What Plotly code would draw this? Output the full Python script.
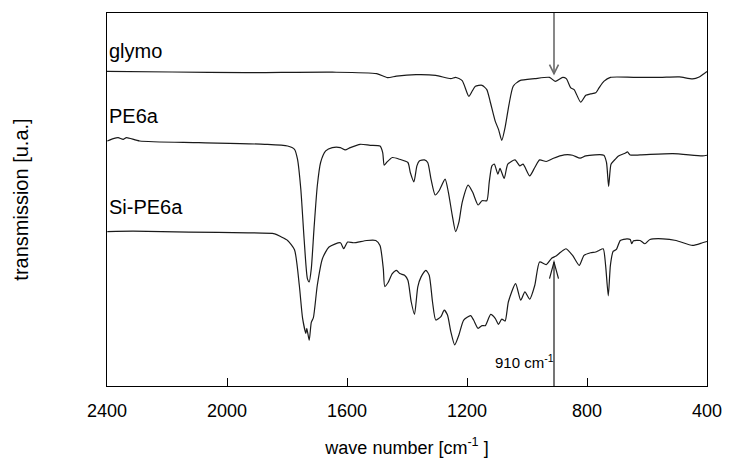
import plotly.graph_objects as go

# FTIR spectra, stacked for comparison (wave number in cm-1, transmission in arbitrary units)
glymo_wn = [2400, 2183, 1939, 1649, 1501, 1465, 1435, 1370, 1304, 1254, 1238, 1216, 1194, 1183,
            1172, 1150, 1134, 1123, 1106, 1095, 1084, 1073, 1060, 1046, 1024, 974, 925, 906,
            881, 869, 854, 843, 821, 804, 788, 771, 760, 744, 722, 645, 557, 492, 448, 426,
            415, 400]
glymo_t = [316.3, 315.7, 315.0, 315.5, 314.0, 310.0, 311.5, 313.0, 312.3, 309.0, 310.3, 307.0,
           291.3, 296.3, 301.3, 302.3, 298.0, 286.3, 266.3, 258.0, 247.0, 260.0, 283.0, 301.3,
           307.0, 309.0, 310.3, 306.3, 310.3, 309.0, 299.7, 298.0, 285.3, 292.3, 293.7, 294.7,
           299.7, 306.3, 310.3, 310.3, 310.3, 310.7, 308.7, 310.7, 313.0, 316.3]

pe6a_wn = [2399, 2379, 2363, 2346, 2335, 2291, 2094, 1874, 1798, 1775, 1765, 1754, 1743, 1732,
           1726, 1719, 1710, 1699, 1688, 1671, 1649, 1622, 1606, 1589, 1556, 1523, 1490, 1481,
           1476, 1468, 1449, 1425, 1397, 1389, 1377, 1367, 1359, 1342, 1331, 1320, 1306, 1293,
           1273, 1262, 1249, 1238, 1227, 1216, 1196, 1181, 1163, 1150, 1134, 1126, 1117, 1109,
           1097, 1090, 1076, 1064, 1040, 1024, 1013, 991, 974, 958, 936, 914, 876, 848, 823,
           804, 744, 735, 728, 720, 711, 695, 673, 665, 656, 623, 514, 415, 400]
pe6a_t = [246.3, 248.7, 249.7, 248.0, 249.7, 246.3, 244.7, 243.0, 241.3, 238.0, 228.0, 198.0,
          148.0, 108.0, 104.7, 118.0, 158.0, 201.3, 224.7, 236.3, 239.7, 239.7, 237.3, 239.7,
          243.0, 242.0, 241.3, 234.7, 222.0, 224.7, 229.7, 228.0, 224.7, 214.7, 205.3, 221.3,
          226.3, 227.3, 224.7, 208.0, 192.0, 196.3, 208.0, 194.7, 171.3, 155.3, 164.7, 184.7,
          202.0, 194.7, 182.0, 186.3, 186.3, 204.7, 221.3, 223.0, 213.0, 218.7, 208.7, 223.0,
          227.3, 221.3, 223.0, 211.3, 219.7, 227.3, 225.7, 228.7, 232.3, 232.0, 229.0, 231.3,
          232.0, 224.7, 200.7, 223.0, 226.3, 231.3, 234.0, 235.3, 232.3, 232.3, 233.7, 231.3,
          232.0]

si_pe6a_wn = [2399, 2313, 2127, 1929, 1841, 1820, 1798, 1775, 1759, 1748, 1737, 1734, 1726,
              1719, 1712, 1699, 1682, 1660, 1622, 1611, 1598, 1578, 1534, 1504, 1490, 1479,
              1474, 1463, 1449, 1435, 1424, 1408, 1397, 1386, 1375, 1364, 1353, 1337, 1326,
              1315, 1304, 1287, 1276, 1265, 1254, 1241, 1227, 1211, 1188, 1178, 1163, 1150,
              1139, 1121, 1106, 1095, 1084, 1073, 1062, 1038, 1021, 1007, 991, 974, 958, 936,
              917, 903, 887, 870, 848, 826, 810, 788, 771, 760, 746, 738, 729, 722, 713, 702,
              689, 667, 656, 651, 645, 623, 607, 590, 547, 503, 448, 415, 400]
si_pe6a_t = [155.3, 155.7, 154.7, 154.0, 153.0, 150.0, 146.3, 137.0, 101.3, 68.0, 53.0, 58.0,
             46.0, 64.0, 68.7, 101.3, 128.0, 139.7, 144.0, 138.0, 144.7, 144.0, 146.3, 146.3,
             141.3, 118.0, 100.0, 104.0, 113.0, 116.3, 113.0, 111.3, 106.3, 84.7, 72.0, 99.7,
             109.7, 116.3, 111.3, 84.7, 66.3, 69.7, 76.3, 71.3, 54.7, 41.3, 51.3, 66.3, 70.7,
             66.3, 58.0, 60.7, 60.7, 72.0, 68.0, 62.0, 67.3, 65.3, 84.7, 103.0, 86.3, 94.7, 87.3,
             101.3, 124.7, 122.0, 128.7, 130.7, 134.7, 138.0, 131.3, 121.3, 131.3, 134.0, 134.7,
             136.3, 138.0, 121.3, 90.7, 121.3, 135.3, 137.3, 146.3, 148.0, 147.3, 143.0, 146.0,
             146.3, 143.0, 147.3, 148.0, 146.3, 141.3, 144.0, 145.3]

x_ticks = [2400, 2000, 1600, 1200, 800, 400]
marked_band = 910

FONT = "Arial, Liberation Sans, Helvetica, sans-serif"

fig = go.Figure()
for wn, t in [(glymo_wn, glymo_t), (pe6a_wn, pe6a_t), (si_pe6a_wn, si_pe6a_t)]:
    fig.add_trace(go.Scatter(x=wn, y=t, mode="lines",
                             line=dict(color="#1a1a1a", width=1.2, shape="spline", smoothing=0.6),
                             showlegend=False, hoverinfo="skip"))

# sample names
for name, ypos in [("glymo", 337), ("PE6a", 271), ("Si-PE6a", 180)]:
    fig.add_annotation(x=2400, y=ypos, xref="x", yref="y", text=name, showarrow=False,
                       xanchor="left", yanchor="middle", xshift=0,
                       font=dict(family=FONT, size=20, color="black"))

# arrows marking the epoxide band at 910 cm-1
hw = 15
fig.add_shape(type="line", x0=marked_band, x1=marked_band, y0=375, y1=314,
              line=dict(color="#6a6a6a", width=1.6))
fig.add_shape(type="path",
              path=f"M {marked_band - hw},323 L {marked_band},314 L {marked_band + hw},323",
              line=dict(color="#6a6a6a", width=1.6))
fig.add_shape(type="line", x0=marked_band, x1=marked_band, y0=0, y1=124.7,
              line=dict(color="#1a1a1a", width=1.2))
fig.add_shape(type="path",
              path=f"M {marked_band - hw},108 L {marked_band},124.7 L {marked_band + hw},108",
              line=dict(color="#1a1a1a", width=1.2))
fig.add_annotation(x=marked_band, y=25, xref="x", yref="y", text="910 cm<sup>-1</sup>",
                   showarrow=False, xanchor="right", yanchor="middle", xshift=2,
                   font=dict(family=FONT, size=15, color="black"))

fig.update_layout(
    width=734, height=466,
    margin=dict(l=107, r=19, t=13, b=78),
    paper_bgcolor="white", plot_bgcolor="white",
    font=dict(family=FONT, color="black"),
    xaxis=dict(range=[2400, 400], tickvals=x_ticks, ticktext=[str(v) for v in x_ticks],
               ticks="inside", ticklen=8, tickwidth=1, tickcolor="black",
               ticklabelstandoff=8,
               showline=True, linecolor="black", linewidth=1, mirror=True,
               showgrid=False, zeroline=False, tickfont=dict(family=FONT, size=18),
               title=dict(text="wave number [cm<sup>-1</sup> ]", font=dict(family=FONT, size=18),
                          standoff=21)),
    yaxis=dict(range=[0, 375], showticklabels=False, ticks="", showgrid=False, zeroline=False,
               showline=True, linecolor="black", linewidth=1, mirror=True,
               title=dict(text="transmission [u.a.]", font=dict(family=FONT, size=20),
                          standoff=72)),
)

fig.write_html("out.html")
